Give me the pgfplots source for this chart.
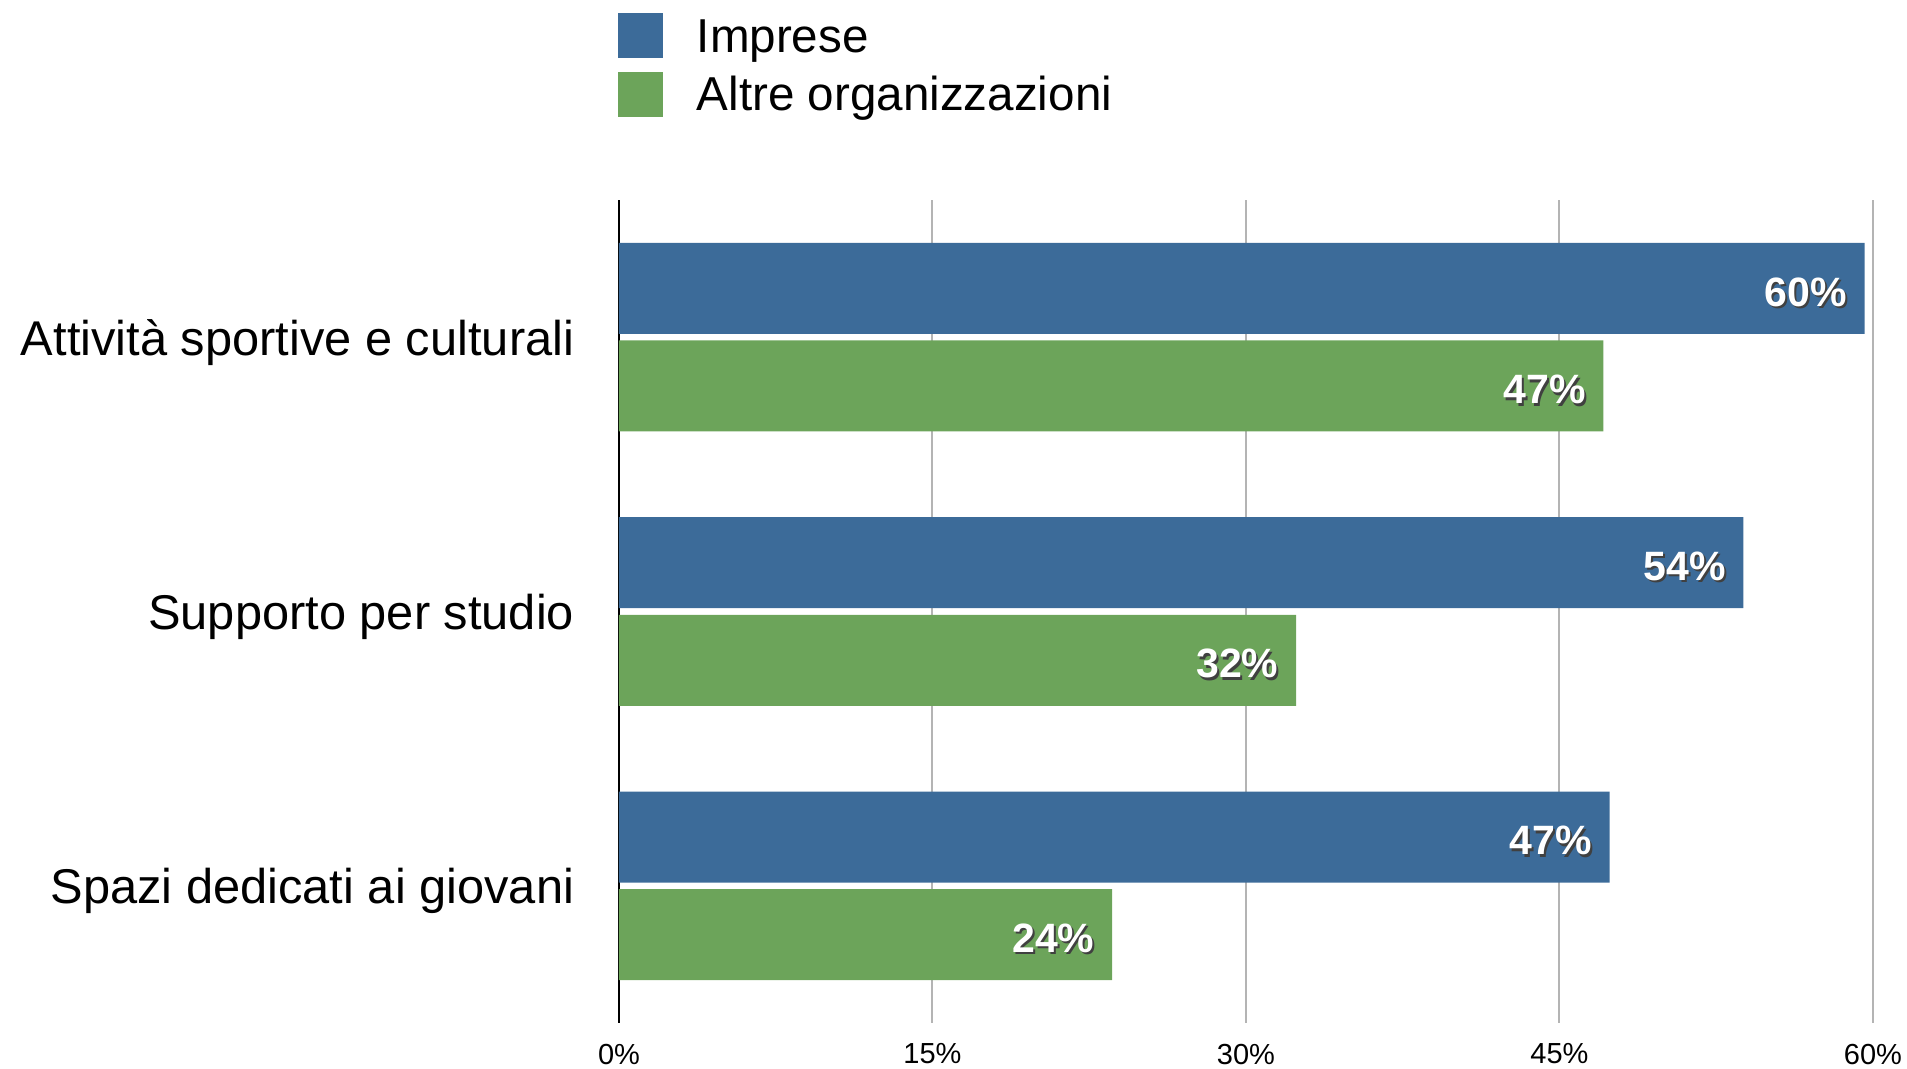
\documentclass[border=0pt]{standalone}
\usepackage{pgfplots}
\pgfplotsset{compat=1.18}
\usepackage{fontspec}
\setmainfont{Liberation Sans}
\definecolor{cblue}{RGB}{60,107,153}
\definecolor{cgreen}{RGB}{108,164,90}
\definecolor{cgrid}{RGB}{180,180,180}
\newcommand\shlabel[1]{\rlap{\kern0.5pt\raisebox{-0.6pt}{\color{black!75}#1}}{\color{white}#1}}
\begin{document}
\begin{tikzpicture}
\useasboundingbox (-154.75pt,-11.5pt) rectangle (322pt,255.75pt);
\begin{axis}[
  at={(0,0)}, anchor=south west,
  scale only axis,
  width=313.5pt, height=205.75pt,
  xbar,
  bar width=22.75pt,
  xmin=0, xmax=60,
  ymin=-0.5, ymax=2.5,
  axis lines*=left,
  axis line style={draw=none},
  major tick length=0pt,
  tick style={draw=none},
  xtick={0,15,30,45,60},
  xticklabels={0\%,15\%,30\%,45\%,60\%},
  xticklabel style={inner sep=0pt, anchor=north, yshift=-5pt, font=\fontsize{7.25}{8}\selectfont},
  ytick={0,1,2},
  yticklabels={Spazi dedicati ai giovani, Supporto per studio, Attività sportive e culturali},
  yticklabel style={inner sep=0pt, anchor=east, xshift=-11pt, yshift=-1.3pt, font=\fontsize{12.2}{14}\selectfont},
  xmajorgrids,
  major grid style={cgrid, line width=0.5pt},
  extra x ticks={0},
  extra x tick labels={},
  extra x tick style={grid=major, major grid style={black, line width=0.6pt}},
  point meta=explicit symbolic,
  nodes near coords={\shlabel{\pgfplotspointmeta}},
  every node near coord/.append style={anchor=east, xshift=-4.25pt, yshift=-1.2pt, inner sep=0pt, font=\bfseries\fontsize{10.25}{12}\selectfont},
  legend style={at={(rel axis cs:0,1)}, anchor=north west, xshift=-0.5pt, yshift=46.9pt,
    draw=none, fill=none, inner sep=0pt, row sep=2.35pt,
    font=\fontsize{11.9}{13}\selectfont,
    cells={anchor=west},
    nodes={inner sep=0pt, text height=8.5pt, text depth=2.5pt}},
  legend image code/.code={\fill[#1, draw=none] (0pt,-4.5pt) rectangle (11.25pt,6.75pt);},
  legend cell align=left,
  clip=false,
]
\addplot+[draw=none, fill=cblue, bar shift=12.2pt] coordinates {
  (59.6,2) [60\%]
  (53.8,1) [54\%]
  (47.4,0) [47\%]
};
\addlegendentry{\hspace{8.5pt}Imprese}
\addplot+[draw=none, fill=cgreen, bar shift=-12.2pt] coordinates {
  (47.1,2) [47\%]
  (32.4,1) [32\%]
  (23.6,0) [24\%]
};
\addlegendentry{\hspace{8.5pt}Altre organizzazioni}
\end{axis}
\end{tikzpicture}
\end{document}
